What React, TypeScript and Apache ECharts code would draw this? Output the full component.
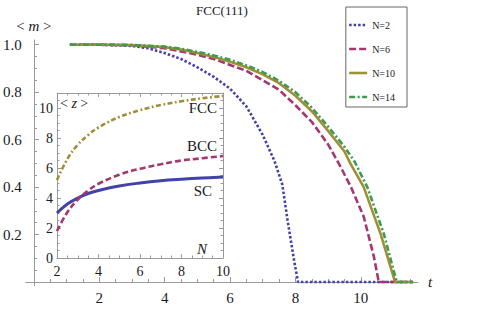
import React, { useEffect, useRef } from 'react';
import * as echarts from 'echarts';

// ---- Main chart data: <m> versus t, FCC(111) ----
const seriesNames = ['N=2', 'N=6', 'N=10', 'N=14'];
const mN2: number[][] = [
  [1.1, 1], [2, 1], [3, 0.995], [3.5, 0.985], [4, 0.965], [4.5, 0.94], [5, 0.905], [5.5, 0.865],
  [6, 0.815], [6.5, 0.74], [7, 0.62], [7.36, 0.51], [7.6, 0.41], [7.76, 0.26], [7.96, 0.09], [8.08, 0], [11.6, 0],
];
const mN6: number[][] = [
  [1.1, 1], [2, 1], [3, 0.998], [4, 0.985], [4.5, 0.972], [5, 0.958], [5.5, 0.94], [6, 0.915], [6.5, 0.89],
  [7, 0.85], [7.5, 0.81], [8, 0.745], [8.5, 0.675], [9, 0.58], [9.38, 0.486], [9.7, 0.4], [10.09, 0.275],
  [10.4, 0.107], [10.55, 0], [11.6, 0],
];
const mN10: number[][] = [
  [1.1, 1], [2, 1], [3, 0.999], [4, 0.99], [4.5, 0.98], [5, 0.965], [5.5, 0.948], [6, 0.928], [6.5, 0.905],
  [7, 0.875], [7.5, 0.838], [8, 0.785], [8.5, 0.72], [9, 0.637], [9.5, 0.55], [9.68, 0.5], [10.09, 0.4],
  [10.6, 0.205], [11.05, 0], [11.6, 0],
];
const mN14: number[][] = [
  [1.1, 1], [2, 1], [3, 0.999], [4, 0.992], [4.5, 0.983], [5, 0.97], [5.5, 0.955], [6, 0.937], [6.5, 0.913],
  [7, 0.885], [7.5, 0.848], [8, 0.8], [8.5, 0.735], [9, 0.655], [9.5, 0.57], [9.8, 0.51], [10.2, 0.4],
  [10.7, 0.205], [11.1, 0], [11.6, 0],
];
const mainXLabels = [2, 4, 6, 8, 10];
const mainXTicks = [0, 2, 4, 6, 8, 10];
const mainYLabels = [0.2, 0.4, 0.6, 0.8, 1.0];
const mainYTicks = [0, 0.2, 0.4, 0.6, 0.8, 1.0];

// ---- Inset data: <z> versus N ----
const insetN = [2, 2.5, 3, 3.5, 4, 5, 6, 7, 8, 9, 10];
const zSC = [3.0, 3.6, 4.0, 4.3, 4.5, 4.8, 5.0, 5.15, 5.25, 5.33, 5.4];
const zBCC = [1.8, 3.05, 3.9, 4.5, 4.95, 5.55, 5.95, 6.25, 6.5, 6.65, 6.8];
const zFCC = [5.2, 6.6, 7.55, 8.2, 8.7, 9.4, 9.85, 10.2, 10.45, 10.65, 10.8];
const insetXLabels = [2, 4, 6, 8, 10];
const insetYLabels = [0, 2, 4, 6, 8, 10];

const BLUE = '#4242a8';
const MAGENTA = '#a3386f';
const OLIVE = '#a08f38';
const GREEN = '#3c9c4a';
const FONT = '"Liberation Serif", "DejaVu Serif", serif';
const AXIS = '#9a9a9a';
const TEXT = '#1a1a1a';

const pairs = (xs: number[], ys: number[]) => xs.map((x, i) => [x, ys[i]]);

function buildOption(): any {
  const mainSeriesStyles = [
    { data: mN2, color: BLUE, type: [2.5, 2] },
    { data: mN6, color: MAGENTA, type: [7, 3] },
    { data: mN10, color: OLIVE, type: 'solid' },
    { data: mN14, color: GREEN, type: [6, 2.5, 2, 2.5] },
  ];
  const mainSeries = mainSeriesStyles.map((s, i) => ({
    name: seriesNames[i],
    type: 'line',
    xAxisIndex: 0,
    yAxisIndex: 0,
    data: s.data,
    symbol: 'none',
    showSymbol: false,
    color: s.color,
    lineStyle: { color: s.color, width: 2.6, type: s.type, cap: 'butt' },
    z: 2 + i,
  }));
  const insetSeries = [
    { name: 'SC', data: pairs(insetN, zSC), color: BLUE, type: 'solid', width: 3 },
    { name: 'BCC', data: pairs(insetN, zBCC), color: MAGENTA, type: [6, 3], width: 2.6 },
    { name: 'FCC', data: pairs(insetN, zFCC), color: OLIVE, type: [5, 2.5, 1.8, 2.5], width: 2.6 },
  ].map((s) => ({
    name: s.name,
    type: 'line',
    xAxisIndex: 1,
    yAxisIndex: 1,
    data: s.data,
    smooth: 0.4,
    symbol: 'none',
    showSymbol: false,
    color: s.color,
    lineStyle: { color: s.color, width: s.width, type: s.type },
  }));

  const labelFont = { fontFamily: FONT, fontSize: 15, color: TEXT };

  return {
    animation: false,
    backgroundColor: '#ffffff',
    title: {
      text: 'FCC(111)',
      left: 196,
      top: 4,
      padding: 0,
      textStyle: { fontFamily: FONT, fontSize: 13, fontWeight: 'normal', color: TEXT },
    },
    legend: {
      data: seriesNames,
      orient: 'vertical',
      right: 84,
      top: 7,
      padding: [13, 12, 5, 2],
      itemGap: 14,
      itemWidth: 18,
      itemHeight: 10,
      borderColor: '#666666',
      borderWidth: 1,
      borderRadius: 0,
      backgroundColor: '#ffffff',
      itemStyle: { opacity: 0, borderWidth: 0 },
      lineStyle: { width: 2.6 },
      textStyle: { fontFamily: FONT, fontSize: 10, color: TEXT, padding: [0, 0, 5, 0] },
    },
    grid: [
      { left: 23, top: 40, width: 395, height: 245.6 },
      { left: 57, top: 93, width: 166, height: 165 },
    ],
    xAxis: [
      {
        type: 'value',
        gridIndex: 0,
        min: -0.25,
        max: 11.75,
        name: 't',
        nameLocation: 'end',
        nameGap: 10,
        nameTextStyle: { fontFamily: FONT, fontSize: 15, fontStyle: 'italic', color: TEXT },
        axisLine: { show: true, onZero: true, lineStyle: { color: AXIS, width: 1 } },
        axisTick: { show: true, inside: true, length: 5, customValues: mainXTicks, lineStyle: { color: AXIS } },
        minorTick: { show: true, splitNumber: 4, length: 3, lineStyle: { color: AXIS } },
        axisLabel: { ...labelFont, margin: 5, customValues: mainXLabels, formatter: (v: number) => String(v) },
        splitLine: { show: false },
        minorSplitLine: { show: false },
      },
      {
        type: 'value',
        gridIndex: 1,
        min: 2,
        max: 10,
        interval: 2,
        axisLine: { show: true, onZero: false, lineStyle: { color: AXIS, width: 1 } },
        axisTick: { show: true, inside: true, length: 4, lineStyle: { color: AXIS } },
        minorTick: { show: true, splitNumber: 4, length: 2.5, lineStyle: { color: AXIS } },
        axisLabel: { ...labelFont, fontSize: 14, margin: 6, customValues: insetXLabels, formatter: (v: number) => String(v) },
        splitLine: { show: false },
      },
      {
        type: 'value',
        gridIndex: 1,
        position: 'top',
        min: 2,
        max: 10,
        interval: 2,
        axisLine: { show: true, onZero: false, lineStyle: { color: AXIS, width: 1 } },
        axisTick: { show: true, inside: true, length: 4, lineStyle: { color: AXIS } },
        minorTick: { show: true, splitNumber: 4, length: 2.5, lineStyle: { color: AXIS } },
        axisLabel: { show: false },
        splitLine: { show: false },
      },
    ],
    yAxis: [
      {
        type: 'value',
        gridIndex: 0,
        min: -0.015,
        max: 1.02,
        name: '< {i|m} >',
        nameLocation: 'end',
        nameGap: 7,
        nameTextStyle: {
          fontFamily: FONT,
          fontSize: 15,
          color: TEXT,
          rich: { i: { fontFamily: FONT, fontSize: 15, fontStyle: 'italic', color: TEXT } },
        },
        axisLine: { show: true, onZero: true, lineStyle: { color: AXIS, width: 1 } },
        axisTick: { show: true, inside: true, length: 5, customValues: mainYTicks, lineStyle: { color: AXIS } },
        minorTick: { show: true, splitNumber: 4, length: 3, lineStyle: { color: AXIS } },
        axisLabel: { ...labelFont, margin: 4, customValues: mainYLabels, formatter: (v: number) => v.toFixed(1) },
        splitLine: { show: false },
      },
      {
        type: 'value',
        gridIndex: 1,
        min: 0,
        max: 11,
        interval: 2,
        axisLine: { show: true, onZero: false, lineStyle: { color: AXIS, width: 1 } },
        axisTick: { show: true, inside: true, length: 4, lineStyle: { color: AXIS } },
        minorTick: { show: true, splitNumber: 4, length: 2.5, lineStyle: { color: AXIS } },
        axisLabel: { ...labelFont, fontSize: 14, margin: 4, customValues: insetYLabels, formatter: (v: number) => String(v) },
        splitLine: { show: false },
      },
      {
        type: 'value',
        gridIndex: 1,
        position: 'right',
        min: 0,
        max: 11,
        interval: 2,
        axisLine: { show: true, onZero: false, lineStyle: { color: AXIS, width: 1 } },
        axisTick: { show: true, inside: true, length: 4, lineStyle: { color: AXIS } },
        minorTick: { show: true, splitNumber: 4, length: 2.5, lineStyle: { color: AXIS } },
        axisLabel: { show: false },
        splitLine: { show: false },
      },
    ],
    graphic: [
      {
        type: 'text', x: 217, y: 108,
        style: { text: 'FCC', font: `15px ${FONT}`, fill: TEXT, align: 'right', verticalAlign: 'middle' },
      },
      {
        type: 'text', x: 217, y: 146,
        style: { text: 'BCC', font: `15px ${FONT}`, fill: TEXT, align: 'right', verticalAlign: 'middle' },
      },
      {
        type: 'text', x: 212, y: 191,
        style: { text: 'SC', font: `15px ${FONT}`, fill: TEXT, align: 'right', verticalAlign: 'middle' },
      },
      {
        type: 'text', x: 202, y: 249,
        style: { text: 'N', font: `italic 15px ${FONT}`, fill: TEXT, align: 'center', verticalAlign: 'middle' },
      },
      {
        type: 'text', x: 60, y: 103,
        style: {
          text: '< {i|z} >',
          font: `14px ${FONT}`,
          fill: TEXT,
          align: 'left',
          verticalAlign: 'middle',
          rich: { i: { font: `italic 14px ${FONT}`, fill: TEXT } },
        },
      },
    ],
    series: [...mainSeries, ...insetSeries],
  };
}

export default function App() {
  const ref = useRef<HTMLDivElement>(null);
  useEffect(() => {
    if (!ref.current) return;
    const chart = echarts.init(ref.current, null, { renderer: 'svg', width: 491, height: 310 });
    chart.setOption(buildOption());
    return () => chart.dispose();
  }, []);
  return (
    <div
      ref={ref}
      style={{ position: 'fixed', left: 0, top: 0, width: 491, height: 310, background: '#ffffff' }}
    />
  );
}
